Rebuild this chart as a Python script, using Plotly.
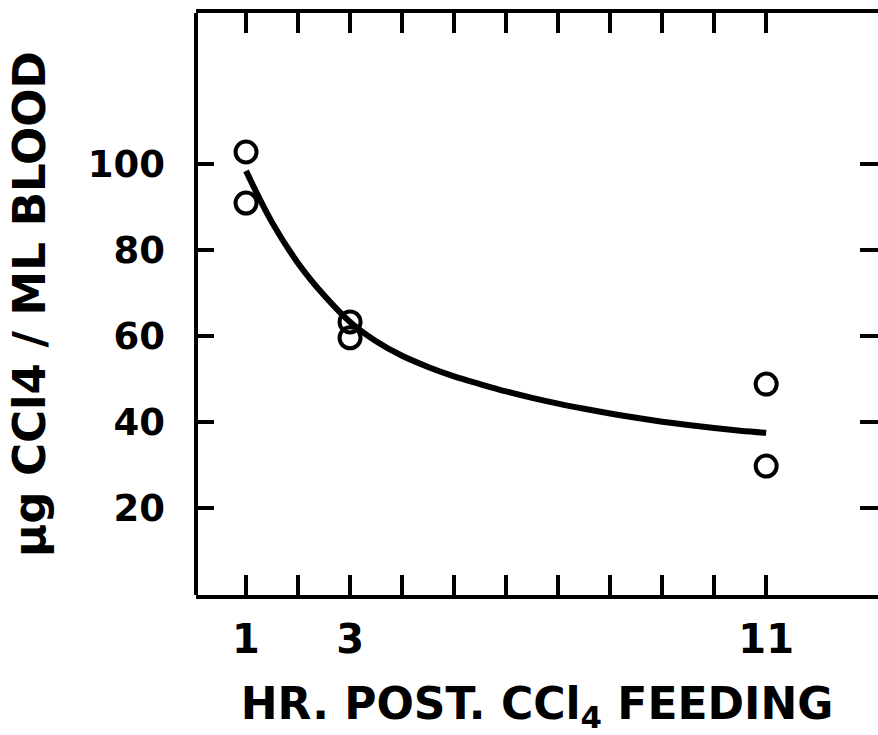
import plotly.graph_objects as go

# Observed data points (hours after feeding, ug CCl4 / ml blood)
hours = [1, 1, 3, 3, 11, 11]
conc = [102.9, 91.0, 63.3, 59.6, 48.8, 29.7]

# Fitted curve
curve_hours = [1.0, 1.5, 2.0, 2.5, 3.0, 3.5, 4.0, 4.5, 5.0, 5.5, 6.0,
               6.5, 7.0, 7.5, 8.0, 8.5, 9.0, 9.5, 10.0, 10.5, 11.0]
curve_conc = [98.5, 86.5, 77.0, 69.5, 63.3, 58.8, 55.4, 52.8, 50.6, 48.8, 47.1,
              45.6, 44.25, 43.05, 41.95, 40.95, 40.05, 39.25, 38.55, 37.95, 37.45]

x_major = [1, 3, 11]
x_major_text = ["1", "3", "11"]
x_minor = [2, 4, 5, 6, 7, 8, 9, 10]
y_ticks = [20, 40, 60, 80, 100]
y_ticktext = ["20", "40", "60", "80", "100"]

FONT = "DejaVu Sans"

fig = go.Figure()
fig.add_trace(go.Scatter(
    x=curve_hours, y=curve_conc, mode="lines",
    line=dict(color="black", width=6, shape="spline", smoothing=1.0),
    hoverinfo="skip", showlegend=False))
fig.add_trace(go.Scatter(
    x=hours, y=conc, mode="markers",
    marker=dict(symbol="circle-open", size=21, color="black", line=dict(width=4)),
    showlegend=False))

fig.update_layout(
    width=878, height=735,
    margin=dict(l=196, r=0, t=13, b=140),
    paper_bgcolor="white", plot_bgcolor="white",
    font=dict(family=FONT, color="black", weight="bold"),
    xaxis=dict(
        automargin=False,
        range=[0.038, 13.15], tickmode="array", tickvals=x_major, ticktext=x_major_text,
        ticks="inside", ticklen=20, tickwidth=4, tickcolor="black",
        minor=dict(tickmode="array", tickvals=x_minor, ticks="inside", ticklen=20,
                   tickwidth=4, tickcolor="black", showgrid=False),
        showline=True, linewidth=4, linecolor="black", mirror="ticks",
        showgrid=False, zeroline=False,
        tickfont=dict(size=40, family=FONT, weight="bold"), ticklabelstandoff=6,
        title=dict(text="HR. POST. CCl<sub>4</sub> FEEDING",
                   font=dict(size=44, family=FONT, weight="bold"), standoff=46),
    ),
    yaxis=dict(
        automargin=False,
        range=[-0.35, 135.3], tickmode="array", tickvals=y_ticks, ticktext=y_ticktext,
        ticks="inside", ticklen=18, tickwidth=4, tickcolor="black",
        showline=False, mirror="ticks",
        showgrid=False, zeroline=False,
        tickfont=dict(size=37, family=FONT, weight="bold"), ticklabelstandoff=30,
        title=dict(text="μg CCl4 / ML BLOOD",
                   font=dict(size=45, family=FONT, weight="bold"), standoff=28),
    ),
    shapes=[dict(type="line", xref="paper", yref="paper", x0=0, x1=0, y0=0, y1=1,
                 line=dict(color="black", width=4))],
)

fig.write_html("out.html")
